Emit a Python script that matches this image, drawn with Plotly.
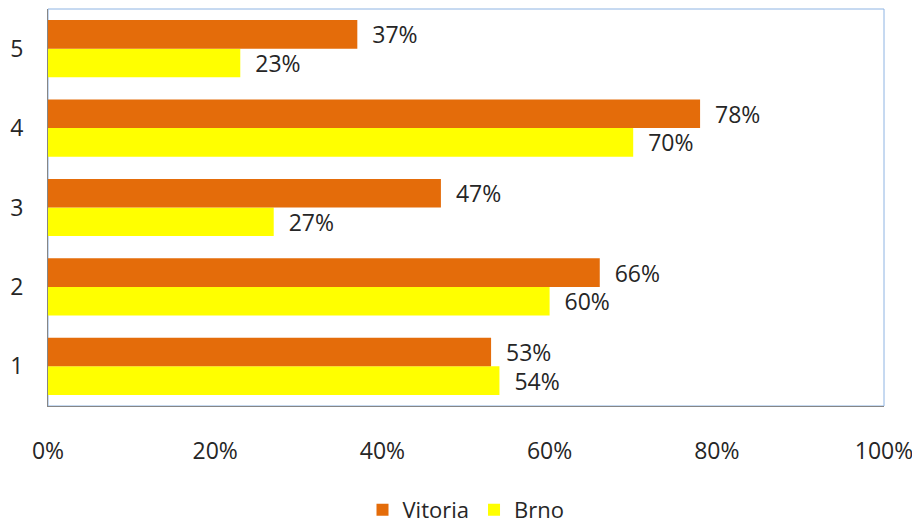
import plotly.graph_objects as go

categories = ["1", "2", "3", "4", "5"]
vitoria = [0.53, 0.66, 0.47, 0.78, 0.37]
brno = [0.54, 0.60, 0.27, 0.70, 0.23]
x_ticks = [0, 0.2, 0.4, 0.6, 0.8, 1.0]
x_tick_labels = ["0%", "20%", "40%", "60%", "80%", "100%"]

FONT = "'Open Sans', sans-serif"
TXT = "#262626"
FS = 23

fig = go.Figure()
# Brno first so it sits below Vitoria inside each group
fig.add_trace(go.Bar(y=categories, x=brno, name="Brno", orientation="h",
                     marker_color="#FFFF00", marker_line_width=0,
                     text=[f"{v:.0%}" for v in brno],
                     texttemplate="  %{text}", textposition="outside",
                     constraintext="none",
                     textfont=dict(size=FS, color=TXT, family=FONT),
                     cliponaxis=False))
fig.add_trace(go.Bar(y=categories, x=vitoria, name="Vitoria", orientation="h",
                     marker_color="#E46C0A", marker_line_width=0,
                     text=[f"{v:.0%}" for v in vitoria],
                     texttemplate="  %{text}", textposition="outside",
                     constraintext="none",
                     textfont=dict(size=FS, color=TXT, family=FONT),
                     cliponaxis=False))

# page body has an 8px margin, so the figure is sized to sit inside it
fig.update_layout(
    width=912, height=521,
    margin=dict(l=40, r=36, t=1, b=123, autoexpand=False),
    barmode="group", bargap=0.28, bargroupgap=0,
    plot_bgcolor="white", paper_bgcolor="white",
    font=dict(family=FONT, size=FS, color=TXT),
    showlegend=True,
    legend=dict(orientation="h", x=0.5, xanchor="center", y=-0.262, yanchor="middle",
                traceorder="reversed", font=dict(size=22, color=TXT),
                itemwidth=30),
)
fig.update_xaxes(range=[0, 1], tickvals=x_ticks, ticktext=x_tick_labels,
                 showgrid=False, zeroline=False, showline=True,
                 linecolor="#868686", linewidth=1, ticks="", automargin=False,
                 ticklabelstandoff=24, tickfont=dict(size=FS, color=TXT))
fig.update_yaxes(showgrid=False, zeroline=False, showline=True,
                 linecolor="#868686", linewidth=1, ticks="", automargin=False,
                 ticklabelstandoff=19, tickfont=dict(size=FS, color=TXT))
fig.add_shape(type="rect", xref="paper", yref="paper", x0=0, x1=1, y0=0, y1=1,
              line=dict(color="#8EB4E3", width=1), layer="below")

fig.write_html("out.html")
